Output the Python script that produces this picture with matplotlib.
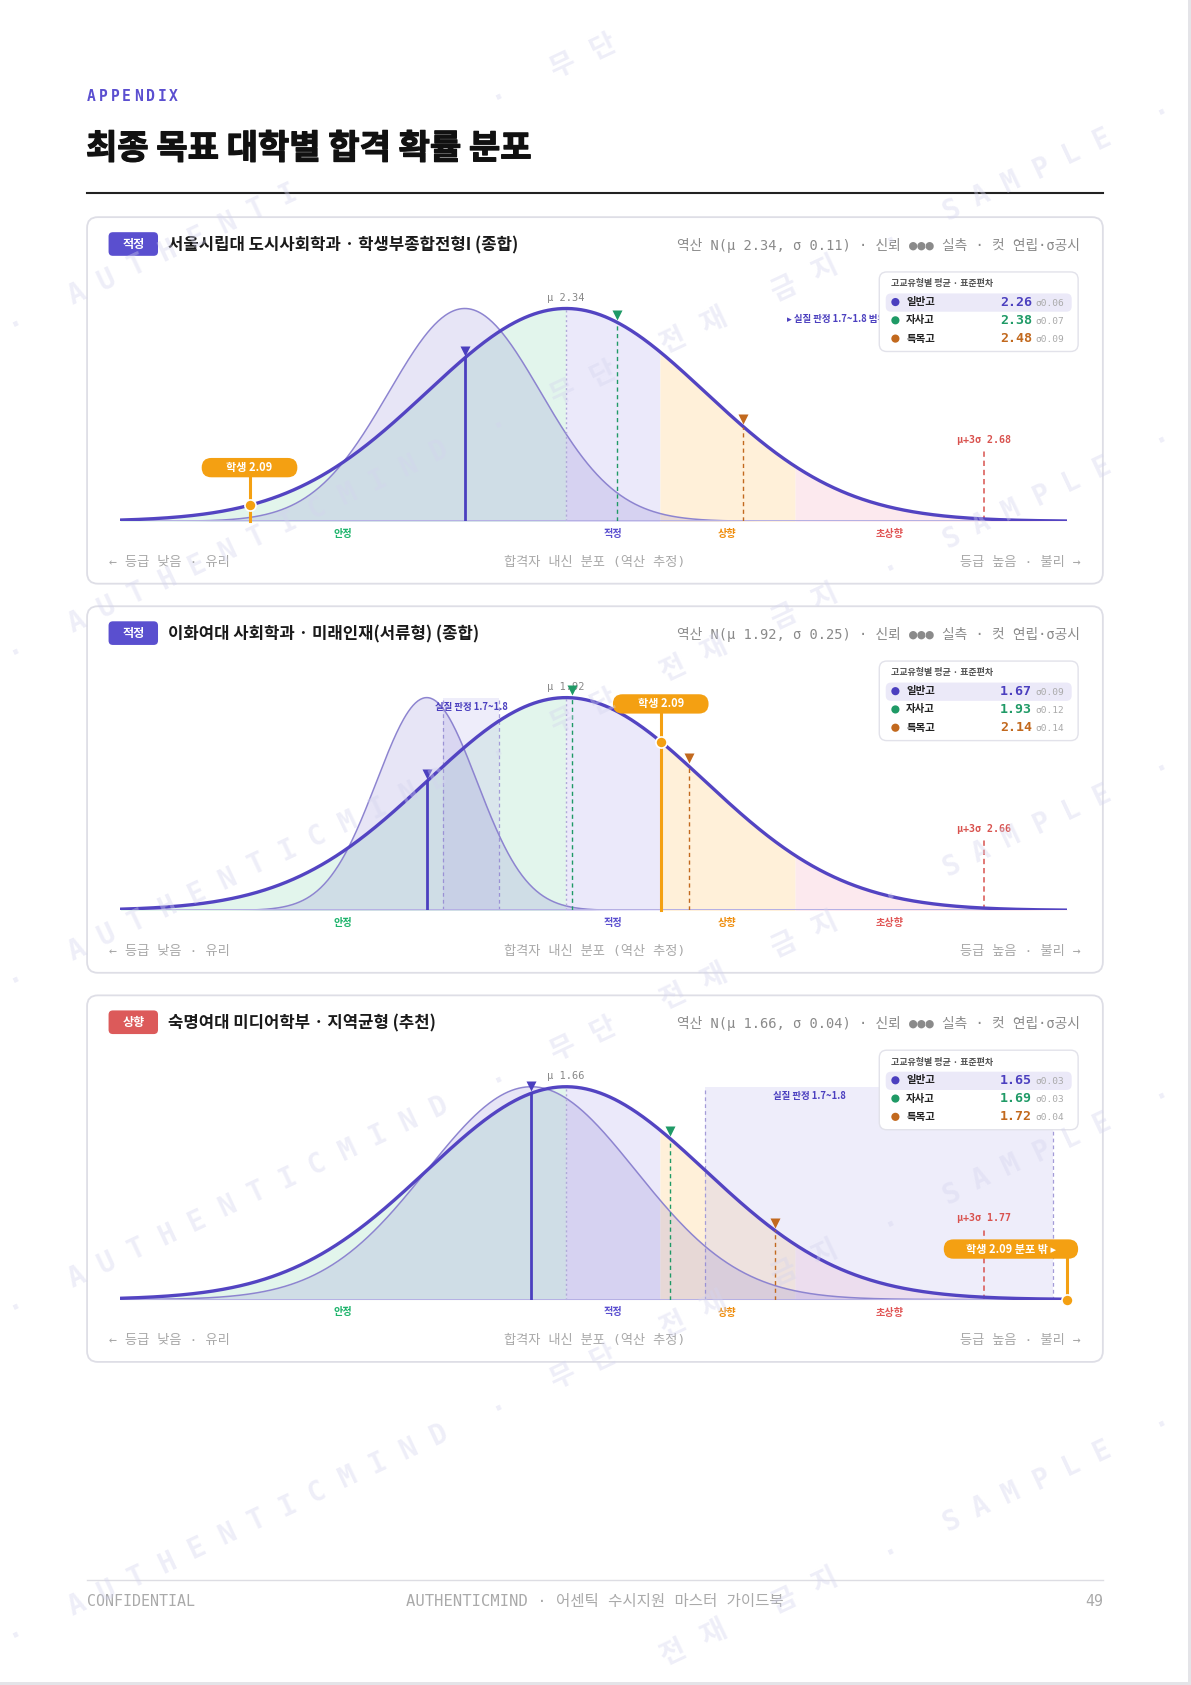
import numpy as np
import matplotlib
matplotlib.use("Agg")
import matplotlib.pyplot as plt
import matplotlib.patheffects as pe
from matplotlib.patches import FancyBboxPatch, Circle, Rectangle
from matplotlib.lines import Line2D
from matplotlib.transforms import IdentityTransform

KR = ["Noto Sans CJK KR", "DejaVu Sans"]
MONO = ["DejaVu Sans Mono", "Noto Sans CJK KR"]

# ---------------- data ----------------
badges = ["적정", "적정", "상향"]
schools = ["서울시립대 도시사회학과 · 학생부종합전형I (종합)",
           "이화여대 사회학과 · 미래인재(서류형) (종합)",
           "숙명여대 미디어학부 · 지역균형 (추천)"]
mu = [2.34, 1.92, 1.66]
sigma = [0.11, 0.25, 0.04]
mu3s = [2.68, 2.66, 1.77]
hs_types = ["일반고", "자사고", "특목고"]
hs_mean = [[2.26, 2.38, 2.48], [1.67, 1.93, 2.14], [1.65, 1.69, 1.72]]
hs_sd = [[0.06, 0.07, 0.09], [0.09, 0.12, 0.14], [0.03, 0.03, 0.04]]
student = 2.09
band_lo, band_hi = 1.7, 1.8
zones = ["안정", "적정", "상향", "초상향"]
zone_cuts = [0.0, 0.674, 1.645]   # z cut points (50 / 75 / 95 %)

# ---------------- style ----------------
badge_col = {"적정": "#5a4fcf", "상향": "#dc5a5a"}
zone_fill = ["#e2f5ec", "#ebe9fa", "#fff0d9", "#fce9ee"]
zone_txt = ["#1db36b", "#5a4fcf", "#ef8c0a", "#e05555"]
hs_col = ["#4b3fbf", "#1f9a66", "#c2691e"]
CURVE = "#5344c2"
ORANGE = "#f4a012"

W, H = 1191, 1685
S = W / 1108.0          # layout measured on a 1108 wide frame
FH = H / S


def fx(x):
    return x / 1108.0


def fy(y):
    return 1 - y / FH


fig = plt.figure(figsize=(W / 100, H / 100), dpi=100)
fig.patch.set_facecolor("white")


def rbox(x0, y0, x1, y1, r, **kw):
    p = FancyBboxPatch((x0 * S, H - y1 * S), (x1 - x0) * S, (y1 - y0) * S,
                       boxstyle=f"round,pad=0,rounding_size={r * S}",
                       transform=IdentityTransform(), **kw)
    fig.add_artist(p)


# header
for k, ch in enumerate("APPENDIX"):
    fig.text(fx(81 + k * 10.9), fy(90), ch, family="DejaVu Sans Mono", weight="bold",
             fontsize=10.5, color="#5b4fd0", va="center", ha="left")
fig.text(fx(80), fy(138), "최종 목표 대학별 합격 확률 분포", family=KR, weight="black",
         fontsize=24.5, color="#111111", va="center", ha="left", zorder=11,
         path_effects=[pe.withStroke(linewidth=0.9, foreground="#111111")])
fig.add_artist(Line2D([fx(81), fx(1026)], [fy(180), fy(180)], color="#222222", lw=1.5))

ZMIN, ZMAX = -3.2, 3.6
u = 1 / 198.0

for i in range(3):
    T = 202 + 362 * i
    m, s = mu[i], sigma[i]

    # card
    rbox(81, T, 1026, T + 341, 10, fc="white", ec="#dedee6", lw=1.3, zorder=-1)
    rbox(101, T + 14, 147, T + 36, 4, fc=badge_col[badges[i]], ec="none", zorder=1)
    fig.text(fx(124), fy(T + 25), badges[i], family=KR, weight="bold", fontsize=8.7,
             color="white", ha="center", va="center")
    fig.text(fx(156), fy(T + 26), schools[i], family=KR, weight="bold", fontsize=12,
             color="#1a1a1a", ha="left", va="center")
    fig.text(fx(1005), fy(T + 26),
             f"역산 N(μ {m:.2f}, σ {s:.2f}) · 신뢰 ●●● 실측 · 컷 연립·σ공시",
             family=MONO, fontsize=9.9, color="#8a8a8a", ha="right", va="center")

    ax = fig.add_axes([fx(112), fy(T + 283), fx(993) - fx(112), (283 - 60) / FH])
    ax.set_xlim(ZMIN, ZMAX)
    ax.set_ylim(0, 223 * u)
    ax.axis("off")
    ax.patch.set_visible(False)

    z = np.linspace(ZMIN, ZMAX, 800)
    y = np.exp(-z ** 2 / 2)

    # zones under the curve
    bounds = [ZMIN] + zone_cuts + [ZMAX]
    for k in range(4):
        zz = np.linspace(bounds[k], bounds[k + 1], 200)
        ax.fill_between(zz, 0, np.exp(-zz ** 2 / 2), color=zone_fill[k], lw=0, zorder=1)
        mid = (bounds[k] + min(bounds[k + 1], 3.0)) / 2
        ax.text(mid, -12 * u, zones[k], family=KR, weight="bold", fontsize=7.3,
                color=zone_txt[k], ha="center", va="center", clip_on=False)

    # real judgement band
    b0, b1 = (band_lo - m) / s, (band_hi - m) / s
    if b1 > ZMIN and b0 < ZMAX:
        ax.add_patch(Rectangle((b0, 0), b1 - b0, 1.0, fc="#c9c4ef", alpha=0.3, lw=0, zorder=1.5))
        for bz in (b0, b1):
            ax.plot([bz, bz], [0, 1.0], color="#a49cd8", lw=0.9, ls=(0, (3, 2.5)), zorder=1.6)
        legend_left = (818 - 112) / 881 * (ZMAX - ZMIN) + ZMIN
        lz = min((b0 + b1) / 2, legend_left - 0.5)
        ax.text(lz, 0.955, f"실질 판정 {band_lo}~{band_hi}", family=KR, weight="bold",
                fontsize=6.8, color="#4b3fbf", ha="center", va="center", zorder=6)
    else:
        ax.text(1.59, 0.95, f"▸ 실질 판정 {band_lo}~{band_hi} 범위 밖", family=KR,
                weight="bold", fontsize=6.8, color="#4b3fbf", ha="left", va="center",
                zorder=6, clip_on=False)

    # 일반고 narrow distribution
    c, w = (hs_mean[i][0] - m) / s, hs_sd[i][0] / s
    yn = np.exp(-((z - c) / w) ** 2 / 2)
    ax.fill_between(z, 0, yn, color="#6c60c8", alpha=0.16, lw=0, zorder=2)
    ax.plot(z, yn, color="#8d84d0", lw=1.1, zorder=2.5)

    # main curve + baseline
    ax.plot([ZMIN, ZMAX], [0, 0], color="#b6b0e4", lw=1.4, zorder=2.8)
    ax.plot(z, y, color=CURVE, lw=2.4, zorder=3, solid_capstyle="round")

    # mu
    ax.plot([0, 0], [0, 1], color="#b0aad8", lw=1, ls=(0, (1.5, 2)), zorder=2.6)
    ax.text(0, 1 + 10 * u, f"μ {m:.2f}", family=MONO, fontsize=7.5, color="#888888",
            ha="center", va="center", clip_on=False)

    # mu + 3 sigma
    ax.plot([3, 3], [0, 0.33], color="#d9534f", lw=1.1, ls=(0, (3.5, 2.5)), zorder=2.7)
    ax.text(3, 0.384, f"μ+3σ {mu3s[i]:.2f}", family=MONO, weight="bold", fontsize=7.2,
            color="#d9534f", ha="center", va="center")

    # school type markers
    for j in range(3):
        zj = (hs_mean[i][j] - m) / s
        yj = np.exp(-zj ** 2 / 2)
        if j == 0:
            ax.plot([zj, zj], [0, yj], color=hs_col[j], lw=2, zorder=3.5)
        else:
            ax.plot([zj, zj], [0, yj], color=hs_col[j], lw=1, ls=(0, (3, 2.5)), zorder=3.5)
        ax.plot(zj, yj + 0.035, marker="v", ms=7, color=hs_col[j], mec="none", zorder=4)

    # student
    zs = (student - m) / s
    if zs <= ZMAX:
        zdot, ydot, lift, wbox = zs, np.exp(-zs ** 2 / 2), 35, 89
        lab, centered = f"학생 {student:.2f}", True
    else:
        zdot, ydot, lift, wbox = ZMAX, 0.0, 47, 125
        lab, centered = f"학생 {student:.2f} 분포 밖 ▸", False
    ax.plot([zdot, zdot], [0, ydot + (lift - 9) * u], color=ORANGE, lw=2.2, zorder=4.5,
            clip_on=False)
    ax.plot(zdot, ydot, "o", ms=8, mfc=ORANGE, mec="white", mew=1.2, zorder=5, clip_on=False)
    cx, cy = ax.transData.transform((zdot, ydot))
    bcy, bh, bw = cy + lift * S, 18 * S, wbox * S
    bx0 = cx - bw / 2 if centered else cx + 10 * S - bw
    fig.add_artist(FancyBboxPatch((bx0, bcy - bh / 2), bw, bh,
                                  boxstyle=f"round,pad=0,rounding_size={bh / 2}",
                                  transform=IdentityTransform(), fc=ORANGE, ec="none", zorder=4))
    fig.text((bx0 + bw / 2) / W, bcy / H, lab, family=KR, weight="bold", fontsize=8,
             color="white", ha="center", va="center", zorder=4.5)

    # legend box
    rbox(818, T + 51, 1003, T + 125, 7, fc="white", ec="#e2e2ea", lw=1, zorder=5)
    fig.text(fx(829), fy(T + 62), "고교유형별 평균 · 표준편차", family=KR, weight="bold",
             fontsize=6.5, color="#555555", ha="left", va="center", zorder=6)
    rbox(824, T + 71, 997, T + 88, 5, fc="#ebe9f8", ec="none", zorder=5.5)
    for j in range(3):
        ry = T + 79 + 17 * j
        fig.add_artist(Circle((833 * S, H - ry * S), 3.8 * S, fc=hs_col[j], ec="none",
                              transform=IdentityTransform(), zorder=6))
        fig.text(fx(843), fy(ry), hs_types[j], family=KR, weight="bold", fontsize=7.5,
                 color="#222222", ha="left", va="center", zorder=6)
        fig.text(fx(960), fy(ry), f"{hs_mean[i][j]:.2f}", family=MONO, weight="bold",
                 fontsize=9.5, color=hs_col[j], ha="right", va="center", zorder=6)
        fig.text(fx(963), fy(ry + 1), f"σ{hs_sd[i][j]:.2f}", family=MONO, fontsize=6.8,
                 color="#aaaaaa", ha="left", va="center", zorder=6)

    # axis captions
    fig.text(fx(101), fy(T + 321), "← 등급 낮음 · 유리", family=MONO, fontsize=9.5,
             color="#a8a8a8", ha="left", va="center")
    fig.text(fx(553), fy(T + 321), "합격자 내신 분포 (역산 추정)", family=MONO, fontsize=9.5,
             color="#a8a8a8", ha="center", va="center")
    fig.text(fx(1005), fy(T + 321), "등급 높음 · 불리 →", family=MONO, fontsize=9.5,
             color="#a8a8a8", ha="right", va="center")

# footer
fig.add_artist(Line2D([fx(81), fx(1026)], [fy(1470), fy(1470)], color="#dddde3", lw=1))
fig.text(fx(81), fy(1490), "CONFIDENTIAL", family=MONO, fontsize=10.8, color="#aaaaaa",
         ha="left", va="center")
fig.text(fx(553), fy(1490), "AUTHENTICMIND · 어센틱 수시지원 마스터 가이드북", family=MONO,
         fontsize=11.2, color="#aaaaaa", ha="center", va="center")
fig.text(fx(1026), fy(1490), "49", family=MONO, fontsize=10.8, color="#aaaaaa",
         ha="right", va="center")

# page edge
fig.add_artist(Rectangle((fx(1105.5), 0), 1, 1, transform=fig.transFigure, fc="#e4e4e8",
                         ec="none", zorder=-2))
fig.add_artist(Rectangle((0, 0), 1, 2.5 / FH, transform=fig.transFigure, fc="#e4e4e8",
                         ec="none", zorder=-2))

# watermark: characters laid along diagonal rows, only those inside the page
wm = "·   A U T H E N T I C M I N D   ·   무 단   전 재   금 지   ·   S A M P L E   "
wm = wm * 2
ang = np.deg2rad(25.2)
F = 20 * 100 / 72.0
title_top, title_bot = H - 112 * S, H - 165 * S
for k in range(6):
    px, py = 11 * S, H - (280 + 305 * k + 30) * S
    for ch in wm:
        adv = F if "\uac00" <= ch <= "\ud7a3" else 0.6 * F
        inside = 0 <= px and px + F < W and 0 <= py and py + F < H
        on_title = px < 510 * S and title_bot - F < py < title_top
        if ch.strip() and inside and not on_title:
            fig.text(px / W, py / H, ch, rotation=25.2, rotation_mode="anchor",
                     ha="left", va="baseline", family=MONO, weight="bold", fontsize=20,
                     color="#d4d4ee", alpha=0.38, zorder=10)
        px += adv * np.cos(ang)
        py += adv * np.sin(ang)

fig.savefig("out.png", dpi=100)
